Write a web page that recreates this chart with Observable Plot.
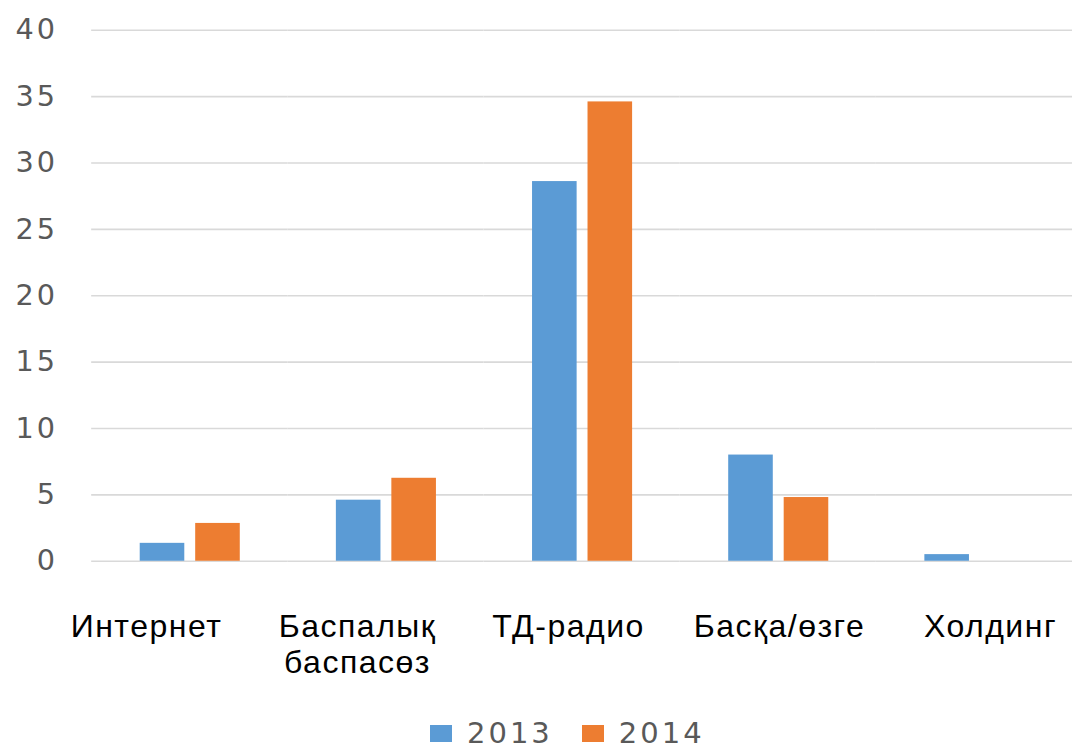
<!DOCTYPE html>
<html>
<head>
<meta charset="utf-8">
<script src="https://cdn.jsdelivr.net/npm/d3@7"></script>
<script src="https://cdn.jsdelivr.net/npm/@observablehq/plot@0.6"></script>
<style>
  html, body { margin: 0; padding: 0; background: #fff; overflow: hidden; }
  #wrap { position: relative; width: 1072px; height: 749px; overflow: hidden; }
  #chart svg, #labels svg { display: block; }
  #labels { position: absolute; left: 0; top: 600px; }
  #labels text { letter-spacing: 1.5px; }
  g[aria-label="y-axis tick label"] text { letter-spacing: 3px; }
  #legend { position: absolute; left: 430px; top: 719px; display: flex; align-items: center;
            font-family: "DejaVu Sans", sans-serif; font-size: 29px; line-height: 1; color: #595959; letter-spacing: 3px; }
  #legend .sw { display: inline-block; width: 22px; height: 17px; }
  #legend .item { display: flex; align-items: center; }
</style>
</head>
<body>
<div id="wrap">
  <div id="chart"></div>
  <div id="labels"></div>
  <div id="legend"></div>
</div>
<script>
const categories = ["Интернет", "Баспалық баспасөз", "ТД-радио", "Басқа/өзге", "Холдинг"];
const years = ["2013", "2014"];
const values2013 = [1.35, 4.6, 28.6, 8.0, 0.5];
const values2014 = [2.85, 6.25, 34.6, 4.8, 0];
const yTicks = [0, 5, 10, 15, 20, 25, 30, 35, 40];
const colors = ["#5B9BD5", "#ED7D31"];

const seriesValues = [values2013, values2014];
const rows = [];
categories.forEach((c, i) => {
  years.forEach((y, j) => rows.push({category: c, year: y, value: seriesValues[j][i]}));
});

const chart = Plot.plot({
  width: 1082,
  height: 705,
  marginLeft: 92,
  marginRight: 0,
  marginTop: 30,
  marginBottom: 139,
  style: {background: "transparent"},
  fx: {domain: categories, padding: 0, label: null, axis: null},
  x: {domain: years, paddingInner: 0.2035, paddingOuter: 0.854, axis: null},
  y: {domain: [0, 40], label: null},
  color: {domain: years, range: colors},
  marks: [
    Plot.ruleY(yTicks, {stroke: "#d9d9d9", strokeWidth: 1.6}),
    Plot.barY(rows, {fx: "category", x: "year", y: "value", fill: "year"}),
    Plot.axisY(yTicks, {
      anchor: "left", tickSize: 0, tickPadding: 34, label: null,
      fontSize: 29, fontFamily: "DejaVu Sans, sans-serif", fill: "#595959"
    })
  ]
});
document.getElementById("chart").appendChild(chart);

// category labels (spread wider than the bars, as in the original)
const labels = Plot.plot({
  width: 1072,
  height: 100,
  marginLeft: 146,
  marginRight: 82,
  marginTop: 0,
  marginBottom: 0,
  style: {background: "transparent"},
  x: {type: "point", domain: categories, padding: 0, axis: null},
  marks: [
    Plot.text(categories, {
      x: d => d, frameAnchor: "top", lineAnchor: "top", dy: 10,
      text: d => d.replace(" ", "\n"),
      fontSize: 32, fontFamily: "Liberation Sans, Arial, sans-serif",
      fill: "#000", lineHeight: 1.15
    })
  ]
});
document.getElementById("labels").appendChild(labels);

const legend = d3.select("#legend");
years.forEach((y, i) => {
  const item = legend.append("div").attr("class", "item").style("margin-right", i === 0 ? "29px" : "0");
  item.append("span").attr("class", "sw").style("background", colors[i]).style("margin-right", "15px");
  item.append("span").text(y);
});
</script>
</body>
</html>
